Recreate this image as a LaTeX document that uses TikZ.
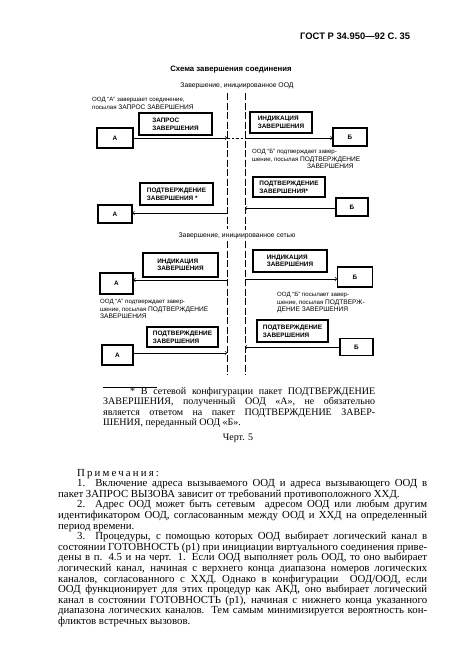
\documentclass[tikz,border=0pt]{standalone}
\usepackage{fontspec}
\setmainfont{Liberation Serif}
\newfontfamily\diagfont{Liberation Sans}
\usepackage{tikz}

% one printed line, spread to a given width
\newcommand{\fitline}[4]{\node[txtline] (#1) at (#2) {\makebox[#3][s]{\spaceskip=.25em plus 1fil minus .12em #4}};}

\tikzset{
  msgbox/.style={draw, line width=1.4pt, align=left, inner sep=2pt,
    font=\diagfont\bfseries\fontsize{6.4}{7.6}\selectfont},
  dtebox/.style={draw, line width=1.1pt, inner sep=0pt,
    font=\diagfont\bfseries\fontsize{6.4}{7.6}\selectfont},
  remark/.style={align=left, inner sep=0pt, anchor=north west,
    font=\diagfont\fontsize{6.1}{7.6}\selectfont},
  seqline/.style={dash pattern=on 7pt off 2.5pt, line width=0.7pt},
  sig/.style={->, line width=0.6pt},
  txtline/.style={anchor=base west, inner sep=0pt, font=\fontsize{10.4}{12}\selectfont},
}

\begin{document}
\begin{tikzpicture}[x=1pt,y=-1pt]
\useasboundingbox (0,0) rectangle (465,661);

% page head and titles
\node[anchor=base west, inner sep=0pt, font=\diagfont\bfseries\fontsize{9.4}{10}\selectfont] (head) at (300,40) {ГОСТ Р 34.950—92 С. 35};
\node[font=\diagfont\bfseries\fontsize{7.8}{9}\selectfont] (title) at (231,70) {Схема завершения соединения};
\node[font=\diagfont\fontsize{6.8}{8}\selectfont] (sub1) at (237,86) {Завершение, инициированное ООД};
\node[font=\diagfont\fontsize{6.8}{8}\selectfont] (sub2) at (237,236) {Завершение, инициированное сетью};

% the two interfaces
\draw[seqline] (227,93) -- (227,229);
\draw[seqline] (245,93) -- (245,230);
\draw[seqline] (227,241) -- (227,375);
\draw[seqline] (245,241) -- (245,375);
\foreach \n/\y in {1/138,2/213,3/280,4/353}
    \coordinate (l\n) at (227,\y);
\foreach \n/\y in {1/138,2/208,3/279,4/347}
    \coordinate (r\n) at (245,\y);

% initiated by the DTE
\node[remark] (txa1) at (92,97) {ООД “А” завершает соединение,\\посылая {\fontsize{6.6}{7.6}\selectfont ЗАПРОС ЗАВЕРШЕНИЯ}};
\node[msgbox, minimum width=73pt, minimum height=22pt] (req) at (175.5,124) {ЗАПРОС\\ЗАВЕРШЕНИЯ};
\node[dtebox, minimum width=36pt, minimum height=20pt] (a1) at (115,138) {А};
\node[msgbox, minimum width=62pt, minimum height=21pt] (ind1) at (281,122.5) {ИНДИКАЦИЯ\\ЗАВЕРШЕНИЯ};
\node[dtebox, minimum width=34pt, minimum height=18pt] (b1) at (350,137) {Б};
\draw[sig] (a1.east |- l1) -- (l1);
\draw[dash pattern=on 2.5pt off 2pt, line width=0.6pt] (l1) -- (r1);
\draw[sig] (r1) -- (r1 -| b1.west);

\node[remark] (txb1) at (252,149) {ООД “Б” подтверждает завер-\\шение, посылая {\fontsize{6.6}{7.6}\selectfont ПОДТВЕРЖДЕНИЕ}\\\hspace*{55pt}{\fontsize{6.6}{7.6}\selectfont ЗАВЕРШЕНИЯ}};
\node[msgbox, minimum width=72pt, minimum height=20pt] (cnf1) at (289,187) {ПОДТВЕРЖДЕНИЕ\\ЗАВЕРШЕНИЯ*};
\node[dtebox, minimum width=32pt, minimum height=18pt] (b2) at (352,207) {Б};
\draw[sig] (b2.west |- r2) -- (r2);
\node[msgbox, minimum width=73pt, minimum height=22pt] (cnf2) at (176.5,194) {ПОДТВЕРЖДЕНИЕ\\ЗАВЕРШЕНИЯ *};
\node[dtebox, minimum width=34pt, minimum height=18pt] (a2) at (115,214) {А};
\draw[sig] (l2) -- (l2 -| a2.east);

% initiated by the network
\node[msgbox, minimum width=75pt, minimum height=24pt] (ind2) at (180.5,265) {ИНДИКАЦИЯ\\ЗАВЕРШЕНИЯ};
\node[msgbox, minimum width=74pt, minimum height=22pt] (ind3) at (290,261) {ИНДИКАЦИЯ\\ЗАВЕРШЕНИЯ};
\node[dtebox, minimum width=33pt, minimum height=21pt] (a3) at (116.5,283.5) {А};
\node[dtebox, minimum width=35pt, minimum height=20pt] (b3) at (355,277) {Б};
\draw[sig] (l3) -- (l3 -| a3.east);
\draw[sig] (r3) -- (r3 -| b3.west);

\node[remark] (txa2) at (100,299) {ООД “А” подтверждает завер-\\шение, посылая {\fontsize{6.6}{7.6}\selectfont ПОДТВЕРЖДЕНИЕ}\\{\fontsize{6.6}{7.6}\selectfont ЗАВЕРШЕНИЯ}};
\node[remark] (txb2) at (277,292) {ООД “Б” посылает завер-\\шение, посылая {\fontsize{6.6}{7.6}\selectfont ПОДТВЕРЖ-}\\{\fontsize{6.6}{7.6}\selectfont ДЕНИЕ ЗАВЕРШЕНИЯ}};
\node[msgbox, minimum width=71pt, minimum height=20pt] (cnf3) at (182.5,337) {ПОДТВЕРЖДЕНИЕ\\ЗАВЕРШЕНИЯ};
\node[msgbox, minimum width=71pt, minimum height=22pt] (cnf4) at (292.5,331) {ПОДТВЕРЖДЕНИЕ\\ЗАВЕРШЕНИЯ};
\node[dtebox, minimum width=31pt, minimum height=20pt] (a4) at (117.5,355) {А};
\node[dtebox, minimum width=33pt, minimum height=17pt] (b4) at (356.5,347) {Б};
\draw[sig] (a4.east |- l4) -- (l4);
\draw[sig] (b4.west |- r4) -- (r4);

% footnote
\draw[line width=0.8pt] (103,387) -- (157,387);
\tikzset{txtline/.append style={font=\fontsize{10}{11}\selectfont}}
\fitline{fn1}{130,394}{245pt}{* В сетевой конфигурации пакет ПОДТВЕРЖДЕНИЕ}
\fitline{fn2}{103,404.5}{272pt}{ЗАВЕРШЕНИЯ, полученный ООД «А», не обязательно}
\fitline{fn3}{103,415}{272pt}{является ответом на пакет ПОДТВЕРЖДЕНИЕ ЗАВЕР-}
\node[txtline] (fn4) at (103,425.5) {ШЕНИЯ, переданный ООД «Б».};
\node[font=\fontsize{10}{11}\selectfont] (fig) at (238,438) {Черт. 5};

% notes
\tikzset{txtline/.append style={font=\fontsize{10.8}{12}\selectfont}}
\node[txtline] (nt0) at (77,476) {\addfontfeature{LetterSpace=20}Примечания:};
\fitline{nt1}{77,486.6}{350pt}{1. Включение адреса вызываемого ООД и адреса вызывающего ООД в}
\node[txtline] (nt2) at (58,497.2) {пакет ЗАПРОС ВЫЗОВА зависит от требований противоположного ХХД.};
\fitline{nt3}{77,507.8}{350pt}{2. Адрес ООД может быть сетевым \ адресом ООД или любым другим}
\fitline{nt4}{58,518.4}{369pt}{идентификатором ООД, согласованным между ООД и ХХД на определенный}
\node[txtline] (nt5) at (58,529) {период времени.};
\fitline{nt6}{77,539.6}{350pt}{3. Процедуры, с помощью которых ООД выбирает логический канал в}
\fitline{nt7}{58,550.2}{369pt}{состоянии ГОТОВНОСТЬ (p1) при инициации виртуального соединения приве-}
\fitline{nt8}{58,560.8}{369pt}{дены в п. 4.5 и на черт. 1. Если ООД выполняет роль ООД, то оно выбирает}
\fitline{nt9}{58,571.4}{369pt}{логический канал, начиная с верхнего конца диапазона номеров логических}
\fitline{nt10}{58,582}{369pt}{каналов, согласованного с ХХД. Однако в конфигурации \ ООД/ООД, если}
\fitline{nt11}{58,592.6}{369pt}{ООД функционирует для этих процедур как АКД, оно выбирает логический}
\fitline{nt12}{58,603.2}{369pt}{канал в состоянии ГОТОВНОСТЬ (p1), начиная с нижнего конца указанного}
\fitline{nt13}{58,613.8}{369pt}{диапазона логических каналов. Тем самым минимизируется вероятность кон-}
\node[txtline] (nt14) at (58,624.4) {фликтов встречных вызовов.};
\end{tikzpicture}
\end{document}
